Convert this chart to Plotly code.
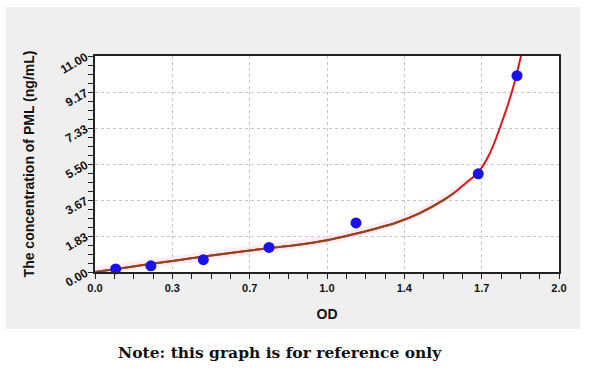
import plotly.graph_objects as go

# Standard points (OD, concentration)
std_od = [0.089, 0.241, 0.467, 0.750, 1.125, 1.652, 1.819]
std_conc = [0.156, 0.312, 0.625, 1.25, 2.50, 5.00, 10.00]

# Fitted curve
curve_od = [0.0, 0.1, 0.2, 0.3, 0.4, 0.5, 0.6, 0.7, 0.8, 0.9, 1.0, 1.1, 1.2, 1.3,
            1.4, 1.5, 1.55, 1.6, 1.65, 1.7, 1.75, 1.8, 1.84]
curve_conc = [0.0, 0.17, 0.34, 0.51, 0.67, 0.84, 0.99, 1.14, 1.28, 1.43, 1.62, 1.88,
              2.18, 2.52, 3.00, 3.65, 4.05, 4.55, 5.05, 6.00, 7.50, 9.30, 11.20]
brown_end = 1.56

x_tick_labels = ["0.0", "0.3", "0.7", "1.0", "1.4", "1.7", "2.0"]
y_tick_labels = ["0.00", "1.83", "3.67", "5.50", "7.33", "9.17", "11.00"]
x_max = 2.0
y_max = 11.0

x_tickvals = [i * x_max / (len(x_tick_labels) - 1) for i in range(len(x_tick_labels))]
y_tickvals = [i * y_max / (len(y_tick_labels) - 1) for i in range(len(y_tick_labels))]

fig = go.Figure()

# faint pink band
band_x = [x for x in curve_od if x <= 1.6]
band_hi = [c + 0.25 for x, c in zip(curve_od, curve_conc) if x <= 1.6]
band_lo = [max(c - 0.2, 0) for x, c in zip(curve_od, curve_conc) if x <= 1.6]
fig.add_trace(go.Scatter(x=band_x, y=band_lo, mode="lines", line=dict(width=0),
                         showlegend=False, hoverinfo="skip"))
fig.add_trace(go.Scatter(x=band_x, y=band_hi, mode="lines", line=dict(width=0),
                         fill="tonexty", fillcolor="rgba(252,215,238,0.5)",
                         showlegend=False, hoverinfo="skip"))

fig.add_trace(go.Scatter(x=curve_od, y=curve_conc, mode="lines",
                         line=dict(color="#e8141a", width=2, shape="spline"),
                         showlegend=False, cliponaxis=False))
bx = [x for x in curve_od if x <= brown_end]
by = [c for x, c in zip(curve_od, curve_conc) if x <= brown_end]
fig.add_trace(go.Scatter(x=bx, y=by, mode="lines",
                         line=dict(color="#8a4a1c", width=2, shape="spline"),
                         showlegend=False))
fig.add_trace(go.Scatter(x=std_od, y=std_conc, mode="markers",
                         marker=dict(color="#1a12e8", size=11, line=dict(width=0)),
                         showlegend=False, cliponaxis=False))

L, R, T, B = 95, 41, 56, 97
W, H = 600, 369
pw, ph = W - L - R, H - T - B

def px2paper(x, y):
    return (x - L) / pw, (H - B - y) / ph

gx0, gy0 = px2paper(6, 329)
gx1, gy1 = px2paper(580, 7)
fig.add_shape(type="rect", xref="paper", yref="paper", x0=gx0, x1=gx1, y0=gy0, y1=gy1,
              fillcolor="#efefef", line=dict(width=0), layer="below")
fig.add_shape(type="rect", xref="paper", yref="paper", x0=0, x1=1, y0=0, y1=1,
              fillcolor="white", line=dict(width=0), layer="below")

nx, ny = px2paper(280, 352)
fig.add_annotation(text="<b>Note: this graph is for reference only</b>", xref="paper", yref="paper",
                   x=nx, y=ny, showarrow=False, xanchor="center", yanchor="middle",
                   font=dict(family="DejaVu Serif", size=15.5, color="#111111"))

axis_font = dict(family="Liberation Sans", size=11, color="#111111")
fig.update_xaxes(range=[0, x_max], tickmode="array", tickvals=x_tickvals, ticktext=x_tick_labels,
                 showline=True, linecolor="#222222", linewidth=1.5, mirror=True,
                 ticks="outside", ticklen=5, tickcolor="#222222", tickwidth=1,
                 showgrid=True, gridcolor="#c4c4c4", griddash="dot", gridwidth=1,
                 zeroline=False, tickfont=dict(**axis_font, weight="bold"), automargin=False,
                 minor=dict(tickmode="linear", tick0=0, dtick=x_max / 24, ticks="outside",
                            ticklen=5, tickcolor="#222222", showgrid=False),
                 title=dict(text="<b>OD</b>", font=dict(family="Liberation Sans", size=14, color="#111111"),
                            standoff=16))
fig.update_yaxes(range=[0, y_max], tickmode="array", tickvals=y_tickvals, ticktext=y_tick_labels,
                 showline=True, linecolor="#222222", linewidth=1.5, mirror=True,
                 ticks="outside", ticklen=5, tickcolor="#222222", tickwidth=1,
                 showgrid=True, gridcolor="#c4c4c4", griddash="dot", gridwidth=1,
                 zeroline=False, tickangle=-30, tickfont=dict(family="Liberation Sans", size=12,
                                                              color="#111111", weight="bold"),
                 automargin=False,
                 minor=dict(tickmode="linear", tick0=0, dtick=y_max / 24, ticks="outside",
                            ticklen=5, tickcolor="#222222", showgrid=False),
                 title=dict(text="<b>The concentration of PML (ng/mL)</b>",
                            font=dict(family="Liberation Sans", size=14, color="#111111"),
                            standoff=20))

fig.update_layout(width=W, height=H, margin=dict(l=L, r=R, t=T, b=B),
                  paper_bgcolor="white", plot_bgcolor="white")

fig.write_html("out.html", config={"displayModeBar": False},
               post_script="document.body.style.margin='0';")
